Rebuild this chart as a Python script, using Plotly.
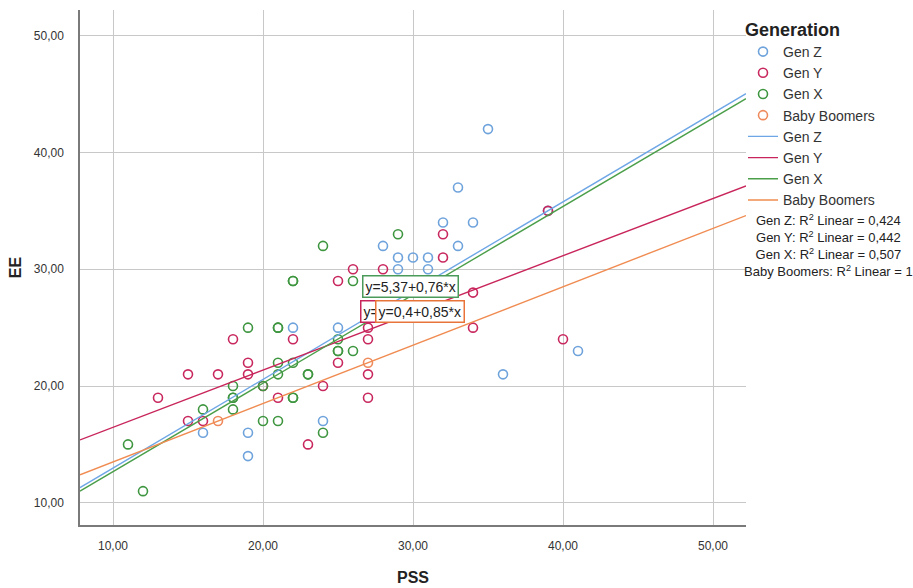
import plotly.graph_objects as go

# ---- data ----
genz_x = [35, 33, 32, 34, 28, 33, 29, 30, 31, 29, 31, 22, 25, 16, 19, 19, 24, 36, 41, 39]
genz_y = [42, 37, 34, 34, 32, 32, 31, 31, 31, 30, 30, 25, 25, 16, 16, 14, 17, 21, 23, 35]

geny_x = [32, 32, 28, 26, 25, 34, 34, 27, 27, 18, 22, 19, 25, 15, 17, 19, 27, 20, 24, 13, 21, 27, 15, 16, 23, 40, 39]
geny_y = [33, 31, 30, 30, 29, 28, 25, 25, 24, 24, 24, 22, 22, 21, 21, 21, 21, 20, 20, 19, 19, 19, 17, 17, 15, 24, 35]

genx_x = [29, 24, 22, 22, 26, 19, 21, 21, 25, 25, 25, 26, 21, 22, 21, 23, 23, 18, 18, 18, 22, 22, 16, 18, 20, 21, 24, 11, 12, 20]
genx_y = [33, 32, 29, 29, 29, 25, 25, 25, 24, 23, 23, 23, 22, 22, 21, 21, 21, 20, 19, 19, 19, 19, 18, 18, 17, 17, 16, 15, 11, 20]

bb_x = [17, 27]
bb_y = [17, 22]

groups = ["Gen Z", "Gen Y", "Gen X", "Baby Boomers"]
intercepts = [5.37, 11.56, 5.1, 8.5]
slopes = [0.76, 0.49, 0.757, 0.5]
r2_labels = ["0,424", "0,442", "0,507", "1"]

marker_colors = ["#6fa3dc", "#c8285e", "#3f9640", "#ee8a5c"]
line_colors = ["#6ea6e6", "#c8255a", "#4b9f4b", "#f08c52"]

x_range = [7.8, 52.2]
y_range = [8.1, 52.2]

FONT = "Liberation Sans, Arial"

fig = go.Figure()

pts = [(genz_x, genz_y), (geny_x, geny_y), (genx_x, genx_y), (bb_x, bb_y)]
for g, (xs, ys), c in zip(groups, pts, marker_colors):
    fig.add_trace(go.Scatter(
        x=xs, y=ys, mode="markers", name=g,
        marker=dict(symbol="circle-open", size=9, color=c, line=dict(width=1.6, color=c)),
        showlegend=True))

for g, a, b, c in zip(groups, intercepts, slopes, line_colors):
    fig.add_trace(go.Scatter(
        x=x_range, y=[a + b * x_range[0], a + b * x_range[1]], mode="lines", name=g,
        line=dict(color=c, width=1.4), showlegend=True))

annotations = []
# equation labels
annotations.append(dict(x=26.6, y=28.5, xref="x", yref="y", xanchor="left", yanchor="middle",
                        text="y=5,37+0,76*x", showarrow=False, bgcolor="white",
                        bordercolor="#4a9a5a", borderwidth=1.5, borderpad=2,
                        font=dict(size=14, color="#222222", family=FONT)))
annotations.append(dict(x=26.45, y=26.35, xref="x", yref="y", xanchor="left", yanchor="middle",
                        text="y=11,6+0,49*x", showarrow=False, bgcolor="white",
                        bordercolor="#c8255a", borderwidth=1.5, borderpad=2,
                        font=dict(size=14, color="#222222", family=FONT)))
annotations.append(dict(x=27.45, y=26.35, xref="x", yref="y", xanchor="left", yanchor="middle",
                        text="y=0,4+0,85*x", showarrow=False, bgcolor="white",
                        bordercolor="#e8743a", borderwidth=1.5, borderpad=2,
                        font=dict(size=14, color="#222222", family=FONT)))
# R2 block
r2_text = "<br>".join(f"{g}: R<sup>2</sup> Linear = {r}" for g, r in zip(groups, r2_labels))
annotations.append(dict(x=(829 - 80) / 666, y=(525 - 245) / 515, xref="paper", yref="paper",
                        xanchor="center", yanchor="middle", align="center",
                        text=r2_text, showarrow=False,
                        font=dict(size=13, color="#222222", family=FONT)))

fig.update_layout(
    width=913, height=588,
    margin=dict(l=80, r=167, t=10, b=63, autoexpand=False),
    paper_bgcolor="white", plot_bgcolor="white",
    separators=",.",
    font=dict(family=FONT, color="#333333"),
    annotations=annotations,
    legend=dict(
        x=(743 - 80) / 666, y=0.995, xanchor="left", yanchor="top",
        title=dict(text="<b>Generation</b>", font=dict(size=18, color="#222222"), side="top"),
        font=dict(size=14, color="#333333"),
        itemwidth=30, tracegroupgap=0, bgcolor="rgba(0,0,0,0)"),
    xaxis=dict(range=x_range, dtick=10, tick0=10, tickformat=".2f",
               showgrid=True, gridcolor="#c8c8c8", gridwidth=1,
               zeroline=False, showline=True, linecolor="#7a7a7a", linewidth=1.5,
               ticks="", ticklabelstandoff=9, automargin=False,
               tickfont=dict(size=12, color="#333333"),
               title=dict(text="<b>PSS</b>", font=dict(size=16, color="#222222"), standoff=20)),
    yaxis=dict(range=y_range, dtick=10, tick0=10, tickformat=".2f",
               showgrid=True, gridcolor="#c8c8c8", gridwidth=1,
               zeroline=False, showline=True, linecolor="#7a7a7a", linewidth=1.5,
               ticks="", ticklabelstandoff=12, automargin=False,
               tickfont=dict(size=12, color="#333333"),
               title=dict(text="<b>EE</b>", font=dict(size=16, color="#222222"), standoff=8)),
)

fig.write_html("out.html")
